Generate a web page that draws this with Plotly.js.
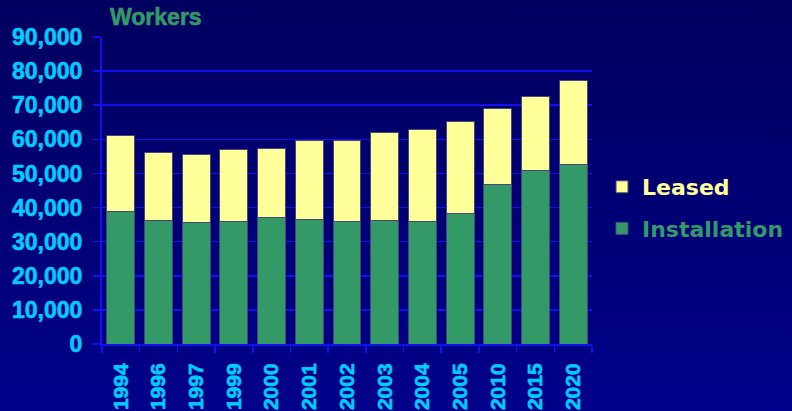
<!DOCTYPE html>
<html>
<head>
<meta charset="utf-8">
<script src="https://cdn.plot.ly/plotly-3.0.1.min.js"></script>
<style>
  html, body { margin: 0; padding: 0; }
  body { width: 792px; height: 411px; background: linear-gradient(#00005f, #00008a); }
  #chart { width: 792px; height: 411px; }
  #chart .xtick text, #chart .ytick text { stroke: #00CCFF; stroke-width: 0.6px; }
  #chart .gtitle { stroke: #339966; stroke-width: 0.6px; }
</style>
</head>
<body>
<div id="chart"></div>
<script>
const years = ['1994','1996','1997','1999','2000','2001','2002','2003','2004','2005','2010','2015','2020'];
const installation = [38800, 36200, 35600, 35900, 37000, 36500, 35900, 36100, 35800, 38200, 46700, 51000, 52500];
const leased = [22300, 19800, 20100, 21200, 20400, 23100, 23700, 26000, 27200, 27100, 22300, 21700, 24800];
const yTicks = [0, 10000, 20000, 30000, 40000, 50000, 60000, 70000, 80000, 90000];
const yTickText = ['0','10,000','20,000','30,000','40,000','50,000','60,000','70,000','80,000','90,000'];

const cyan = '#00CCFF';
const green = '#339966';
const yellow = '#FFFF99';
const blue = '#1010F0';
const outline = 'rgba(70,70,120,1)';

const traces = [
  {
    type: 'bar', x: years, y: installation, name: '<b><span style="color:' + green + '">Installation</span></b>',
    legendgroup: 'a', legendrank: 2,
    marker: { color: green, line: { color: outline, width: 1 } }
  },
  {
    type: 'bar', x: years, y: leased, name: '<b><span style="color:' + yellow + '">Leased</span></b>',
    legendgroup: 'b', legendrank: 1,
    marker: { color: yellow, line: { color: outline, width: 1 } }
  }
];

const layout = {
  width: 792, height: 411,
  paper_bgcolor: 'rgba(0,0,0,0)',
  plot_bgcolor: 'rgba(0,0,0,0)',
  margin: { l: 102, r: 200, t: 37, b: 67 },
  barmode: 'stack',
  bargap: 0.26,
  font: { family: 'Liberation Sans, Arial, sans-serif', color: cyan },
  title: {
    text: '<b>Workers</b>',
    font: { family: 'Liberation Sans, Arial, sans-serif', size: 23, color: green },
    x: 110 / 792, xanchor: 'left', xref: 'container',
    y: 1 - 17 / 411, yanchor: 'middle', yref: 'container'
  },
  xaxis: {
    type: 'category',
    tickvals: years,
    ticktext: years.map(y => '<b>' + y + '</b>'),
    tickangle: -90,
    tickfont: { size: 21, color: cyan },
    ticks: 'outside', ticklen: 7, tickcolor: blue, tickwidth: 1.5,
    tickson: 'boundaries',
    showline: true, linecolor: blue, linewidth: 2,
    showgrid: false,
    ticklabelstandoff: 9
  },
  yaxis: {
    range: [0, 90000],
    tickvals: yTicks, ticktext: yTickText.map(t => '<b>' + t + '</b>'),
    tickfont: { size: 23, color: cyan },
    ticks: 'outside', ticklen: 7, tickcolor: blue, tickwidth: 1.5,
    showline: true, linecolor: blue, linewidth: 2,
    showgrid: true, gridcolor: blue, gridwidth: 1.5,
    zeroline: false,
    ticklabelstandoff: 6
  },
  legend: {
    xref: 'container', yref: 'container',
    x: 602 / 792, xanchor: 'left',
    y: 1 - 208 / 411, yanchor: 'middle',
    traceorder: 'grouped',
    tracegroupgap: 10,
    bgcolor: 'rgba(0,0,0,0)',
    font: { family: 'DejaVu Sans, sans-serif', size: 22 }
  },
  showlegend: true
};

Plotly.newPlot('chart', traces, layout, { displayModeBar: false, staticPlot: true });
</script>
</body>
</html>
